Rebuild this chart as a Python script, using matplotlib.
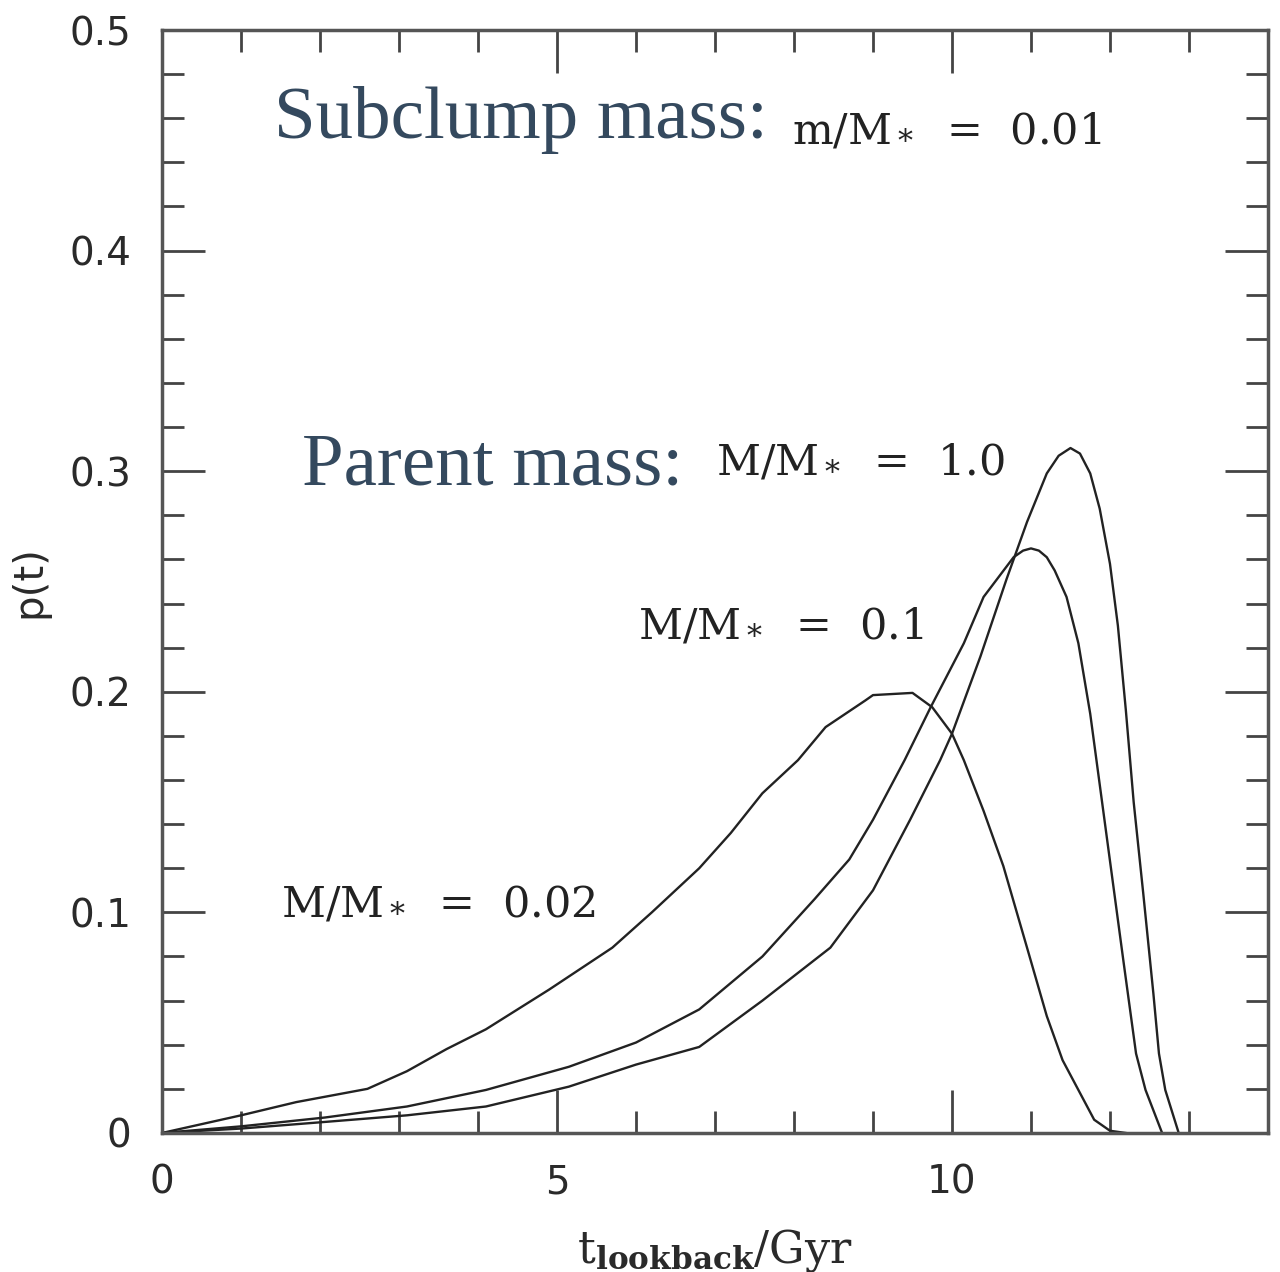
import matplotlib
matplotlib.use('Agg')
import matplotlib.pyplot as plt
from matplotlib.ticker import MultipleLocator

plt.rcParams['mathtext.fontset'] = 'dejavuserif'

# Lookback time (Gyr) and p(t) for each parent mass
t_002 = [0, 0.5, 1.0, 1.7, 2.6, 3.1, 3.6, 4.1, 4.9, 5.7, 6.2, 6.8, 7.2, 7.6, 8.05,
         8.4, 8.9, 9.0, 9.5, 9.75, 10.0, 10.15, 10.4, 10.65, 10.95, 11.2, 11.4,
         11.6, 11.8, 12.0, 12.2]
p_002 = [0, 0.004, 0.008, 0.014, 0.020, 0.028, 0.038, 0.047, 0.065, 0.084, 0.100,
         0.120, 0.136, 0.154, 0.169, 0.184, 0.196, 0.1985, 0.1995, 0.193, 0.181,
         0.169, 0.146, 0.121, 0.084, 0.053, 0.033, 0.0195, 0.006, 0.001, 0.0]

t_01 = [0, 1.0, 2.06, 3.1, 4.1, 5.15, 6.0, 6.8, 7.6, 8.26, 8.7, 9.0, 9.4, 9.73,
        10.15, 10.4, 10.78, 10.9, 11.0, 11.1, 11.2, 11.3, 11.45, 11.6, 11.75,
        11.9, 12.05, 12.17, 12.33, 12.45, 12.66]
p_01 = [0, 0.003, 0.007, 0.012, 0.0195, 0.030, 0.041, 0.056, 0.080, 0.106, 0.124,
        0.142, 0.169, 0.193, 0.222, 0.243, 0.261, 0.264, 0.265, 0.264, 0.261,
        0.255, 0.243, 0.222, 0.190, 0.150, 0.110, 0.078, 0.036, 0.0195, 0.0]

t_10 = [0, 1.0, 2.06, 3.1, 4.1, 5.15, 6.0, 6.8, 7.6, 8.46, 9.0, 9.47, 9.85, 10.0,
        10.36, 10.69, 10.95, 11.2, 11.35, 11.5, 11.62, 11.75, 11.87, 12.0, 12.1,
        12.2, 12.3, 12.42, 12.55, 12.62, 12.7, 12.87]
p_10 = [0, 0.002, 0.005, 0.008, 0.012, 0.021, 0.031, 0.039, 0.060, 0.084, 0.110,
        0.142, 0.169, 0.181, 0.216, 0.251, 0.277, 0.299, 0.307, 0.3105, 0.308,
        0.299, 0.283, 0.258, 0.230, 0.192, 0.150, 0.109, 0.063, 0.036, 0.0195, 0.0]

curves = [(t_002, p_002), (t_01, p_01), (t_10, p_10)]

fig = plt.figure(figsize=(12.8, 12.72), dpi=100)
ax = fig.add_axes([0.1266, 0.1093, 0.864, 0.8671])

for t, p in curves:
    ax.plot(t, p, color='#222222', lw=1.7)

ax.set_xlim(0, 14)
ax.set_ylim(0, 0.5)
ax.xaxis.set_minor_locator(MultipleLocator(1))
ax.yaxis.set_minor_locator(MultipleLocator(0.02))
ax.set_xticks([0, 5, 10])
ax.set_xticklabels(['0', '5', '10'])
ax.set_yticks([0, 0.1, 0.2, 0.3, 0.4, 0.5])
ax.set_yticklabels(['0', '0.1', '0.2', '0.3', '0.4', '0.5'])

ax.tick_params(which='both', direction='in', top=True, right=True,
               color='#444444', width=2)
ax.tick_params(which='major', length=31, labelsize=28, pad=22, labelcolor='#2a2a2a')
ax.tick_params(which='minor', length=16)
for s in ax.spines.values():
    s.set_linewidth(2.5)
    s.set_color('#555555')

ax.set_ylabel('p(t)', fontsize=29, color='#2a2a2a')
ax.yaxis.set_label_coords(-0.102, 0.5)
ax.set_xlabel(r'$\mathrm{t}_{\mathbf{lookback}}\mathrm{/Gyr}$', fontsize=32,
              labelpad=18, color='#2a2a2a')

blue = '#34495e'
ax.text(1.42, 0.451, 'Subclump mass:', fontsize=54, family='Liberation Serif',
        color=blue, va='baseline')
ax.text(1.77, 0.294, 'Parent mass:', fontsize=54, family='Liberation Serif',
        color=blue, va='baseline')

lab = dict(fontsize=31, family='DejaVu Serif', color='#222222', va='baseline')
ax.text(7.98, 0.449, r'm/M$_*$  =  0.01', **lab)
ax.text(7.01, 0.299, r'M/M$_*$  =  1.0', **lab)
ax.text(6.03, 0.2245, r'M/M$_*$  =  0.1', **lab)
ax.text(1.51, 0.0988, r'M/M$_*$  =  0.02', **lab)

fig.savefig('out.png', dpi=100)
